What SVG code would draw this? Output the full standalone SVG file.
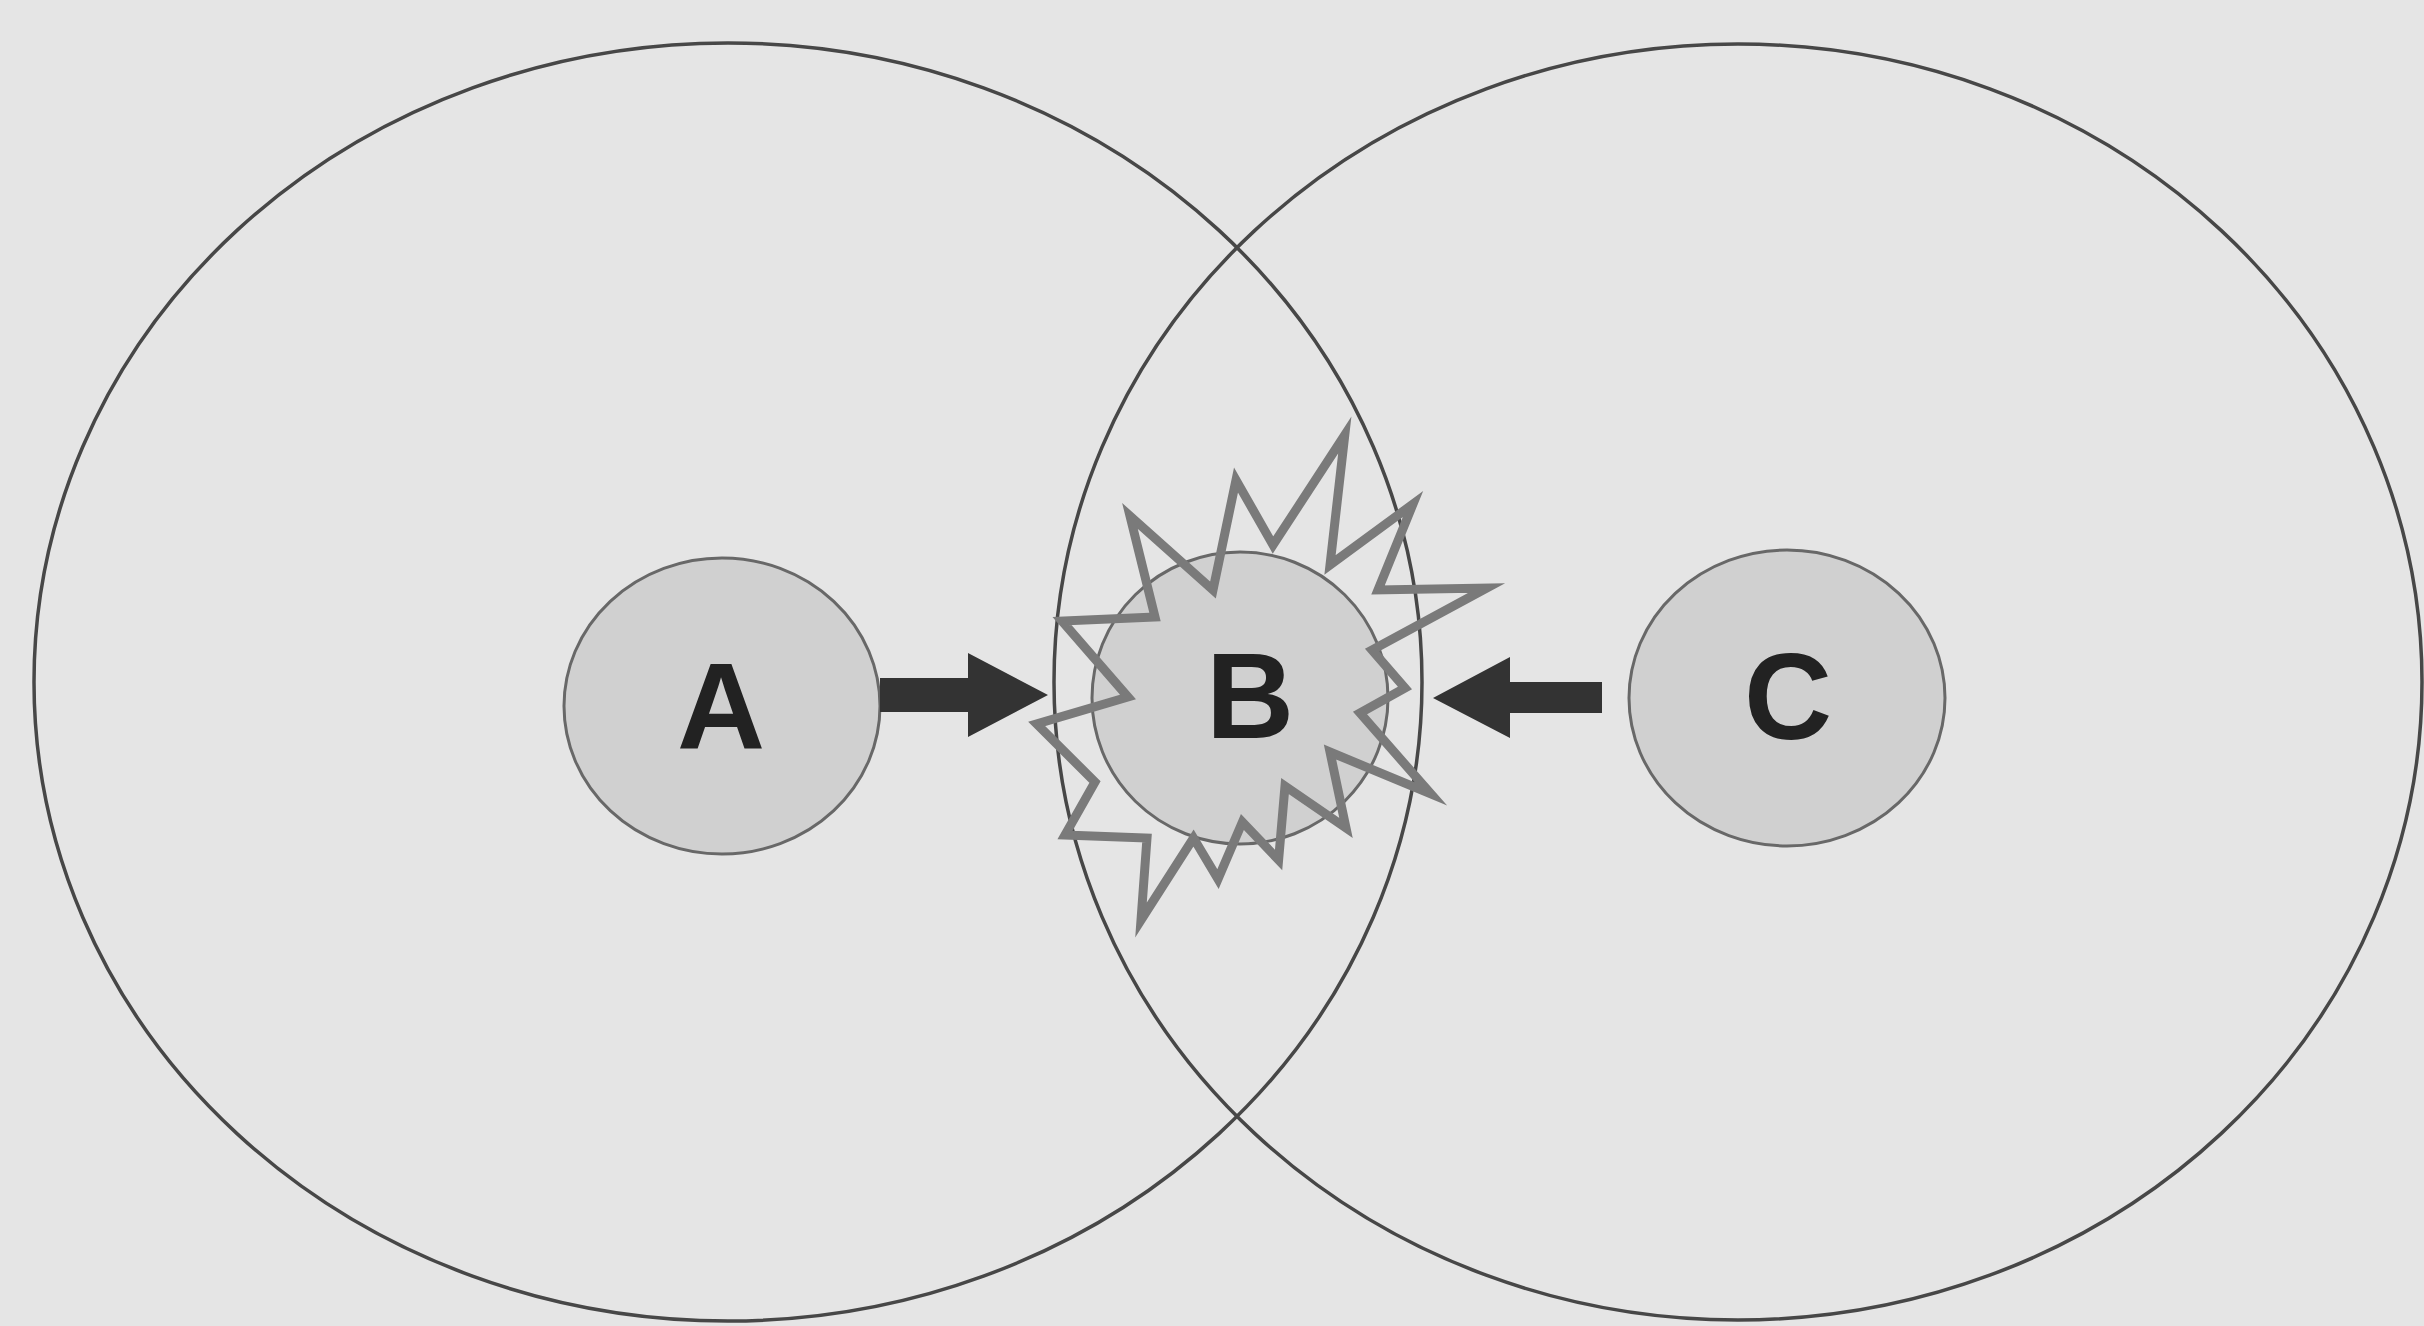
<svg xmlns="http://www.w3.org/2000/svg" width="2424" height="1326" viewBox="0 0 2424 1326">
<defs>
<style>
.big{fill:none;stroke:#474747;stroke-width:3.5}
.small{fill:#d0d0d0;stroke:#686868;stroke-width:3}
.star{fill:none;stroke:#7a7a7a;stroke-width:9;stroke-linejoin:miter;stroke-miterlimit:10}
.arrow{fill:#333333}
.lbl{font-family:"Liberation Sans",Arial,sans-serif;font-weight:bold;font-size:122px;fill:#222222;text-anchor:middle}
</style>
</defs>
<rect x="0" y="0" width="2424" height="1326" fill="#e5e5e5"/>
<g id="region-left"><ellipse class="big" cx="728" cy="682" rx="694" ry="639"/></g>
<g id="region-right"><ellipse class="big" cx="1738" cy="682" rx="684" ry="638"/></g>
<g id="node-A">
<ellipse class="small" cx="722" cy="706" rx="158" ry="148"/>
<text class="lbl" x="721" y="749" font-size="124">A</text>
</g>
<g id="node-B">
<ellipse class="small" cx="1240" cy="698" rx="148" ry="146"/>
<polygon class="star" points="1273,545 1344.8,435 1330,565 1413,504 1378,590 1486.7,588 1372,650 1405,688 1360,713 1431,794 1330,752 1346,828 1285,786 1278.6,860 1242.4,822 1218,879 1193.5,838 1141,920 1147,838 1065,835 1095,782 1036.7,724 1128,697 1062,621 1155,617 1130,516 1213,590 1236,480"/>
<text class="lbl" x="1250" y="738">B</text>
</g>
<g id="node-C">
<ellipse class="small" cx="1787" cy="698" rx="158" ry="148"/>
<text class="lbl" x="1788" y="739">C</text>
</g>
<g id="connectors">
<polygon class="arrow" points="880,678 968,678 968,653 1048,695 968,737 968,712 880,712"/>
<polygon class="arrow" points="1602,682 1510,682 1510,657 1433,698 1510,738 1510,713 1602,713"/>
</g>
</svg>
